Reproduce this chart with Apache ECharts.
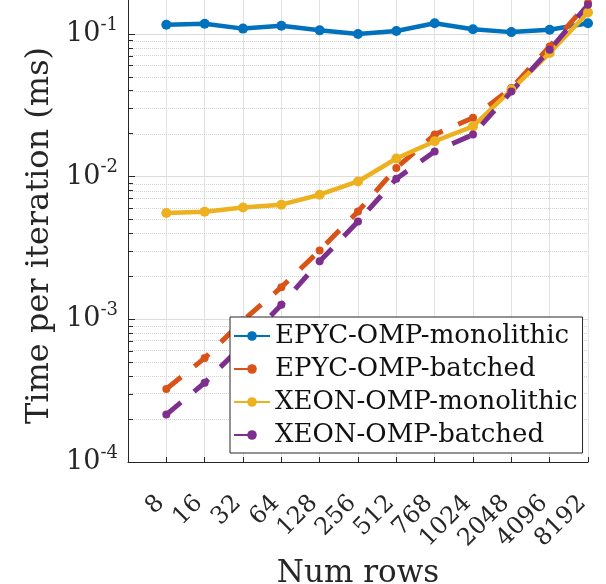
<!DOCTYPE html>
<html>
<head>
<meta charset="utf-8">
<script src="https://cdn.jsdelivr.net/npm/echarts@6/dist/echarts.min.js"></script>
<style>
  html, body { margin: 0; padding: 0; background: #fff; }
  #main { width: 606px; height: 584px; }
</style>
</head>
<body>
<div id="main"></div>
<script>
// data (time per iteration, ms)
var rows = ["8", "16", "32", "64", "128", "256", "512", "768", "1024", "2048", "4096", "8192"];
var epycMono = [0.116, 0.118, 0.109, 0.114, 0.106, 0.100, 0.105, 0.119, 0.108, 0.103, 0.107, 0.119];
var epycBatched = [0.000325, 0.000535, 0.00098, 0.00168, 0.00304, 0.0057, 0.0115, 0.0197, 0.0259, 0.0418, 0.0817, 0.165];
var xeonMono = [0.00556, 0.00568, 0.00608, 0.00636, 0.00747, 0.00925, 0.0134, 0.0177, 0.0225, 0.0406, 0.0735, 0.1415];
var xeonBatched = [0.000215, 0.000359, 0.000664, 0.001265, 0.00255, 0.00485, 0.00967, 0.0150, 0.0197, 0.0395, 0.0774, 0.160];
var names = ["EPYC-OMP-monolithic", "EPYC-OMP-batched", "XEON-OMP-monolithic", "XEON-OMP-batched"];
var colors = ["#0072BD", "#D95319", "#EDB120", "#7E2F8E"];

var FONT = "DejaVu Serif";
var INK = "#262626";
var YMIN = 0.0001, YMAX = 0.2;

function pairs(arr) {
  return arr.map(function (v, i) { return [i + 1, v]; });
}

// minor log ticks 2..9 per decade, as exponents for the helper axis
var minors = [];
for (var e = -4; e <= -1; e++) {
  for (var k = 2; k <= 9; k++) {
    var v = k * Math.pow(10, e);
    if (v < YMAX) minors.push(Math.log10(v));
  }
}

var myChart = echarts.init(document.getElementById("main"));
var option = {
  backgroundColor: "#fff",
  animation: false,
  grid: { left: 128, right: 18, top: -9, bottom: 122, outerBoundsMode: "none", containLabel: false },
  xAxis: {
    type: "value",
    min: 0,
    max: 12,
    interval: 1,
    name: "Num rows",
    nameLocation: "middle",
    nameGap: 88,
    nameTextStyle: { fontFamily: FONT, fontSize: 31, color: INK },
    axisLine: { lineStyle: { color: INK, width: 1 } },
    axisTick: { inside: true, length: 5, lineStyle: { color: INK } },
    axisLabel: {
      rotate: 45,
      margin: 32,
      padding: [0, 8, 0, 0],
      fontFamily: FONT,
      fontSize: 24,
      color: INK,
      showMinLabel: true,
      showMaxLabel: true,
      formatter: function (v) {
        return v >= 1 && v <= 12 ? rows[v - 1] : "";
      }
    },
    splitLine: { show: true, lineStyle: { color: "#e2e2e2", width: 1 } }
  },
  yAxis: [
    {
      type: "log",
      logBase: 10,
      min: YMIN,
      max: YMAX,
      interval: 1,
      name: "Time per iteration (ms)",
      nameLocation: "middle",
      nameGap: 72,
      nameTextStyle: { fontFamily: FONT, fontSize: 32, color: INK, padding: [0, 18, 0, 0] },
      axisLine: { show: true, lineStyle: { color: INK, width: 1 } },
      axisTick: { inside: true, length: 7, lineStyle: { color: INK } },
      axisLabel: {
        margin: 10,
        formatter: function (v) {
          var lg = Math.log10(v);
          var e = Math.round(lg);
          if (Math.abs(lg - e) > 1e-6) return "";
          return "{b|10}{s|" + e + "}";
        },
        rich: {
          b: { fontFamily: FONT, fontSize: 27, color: INK, lineHeight: 36, verticalAlign: "middle" },
          s: { fontFamily: FONT, fontSize: 18, color: INK, lineHeight: 18, verticalAlign: "top" }
        }
      },
      splitLine: { show: true, lineStyle: { color: "#dcdcdc", width: 1 } }
    },
    {
      // helper axis in exponent units, used only to place the minor grid
      type: "value",
      show: false,
      min: Math.log10(YMIN),
      max: Math.log10(YMAX),
      splitLine: { show: false }
    }
  ],
  legend: {
    orient: "vertical",
    left: 230,
    top: 317,
    z: 10,
    data: names,
    backgroundColor: "#fff",
    borderColor: INK,
    borderWidth: 1,
    borderRadius: 0,
    padding: [6, 5, 5, 3],
    itemGap: 7,
    itemWidth: 36,
    itemHeight: 12,
    textStyle: { fontFamily: FONT, fontSize: 26, color: "#111" }
  },
  series: [
    {
      name: "minor-grid",
      type: "line",
      yAxisIndex: 1,
      z: 0,
      data: [],
      silent: true,
      markLine: {
        z: 0,
        silent: true,
        symbol: "none",
        label: { show: false },
        animation: false,
        lineStyle: { type: "dotted", color: "#d2d2d2", width: 1 },
        data: minors.map(function (m) { return { yAxis: m }; })
      }
    },
    {
      name: "minor-ticks",
      type: "line",
      yAxisIndex: 1,
      z: 0,
      data: [],
      silent: true,
      markLine: {
        z: 1,
        silent: true,
        symbol: "none",
        label: { show: false },
        animation: false,
        lineStyle: { type: "solid", color: INK, width: 1 },
        data: minors.map(function (m) { return [{ coord: [0, m] }, { coord: [0.13, m] }]; })
      }
    },
    {
      name: names[0],
      type: "line",
      z: 3,
      data: pairs(epycMono),
      color: colors[0],
      symbol: "circle",
      symbolSize: 10,
      lineStyle: { width: 4.5 }
    },
    {
      name: names[1],
      type: "line",
      z: 3,
      data: pairs(epycBatched),
      color: colors[1],
      symbol: "circle",
      symbolSize: 8,
      lineStyle: { width: 5, type: [19, 17] }
    },
    {
      name: names[2],
      type: "line",
      z: 3,
      data: pairs(xeonMono),
      color: colors[2],
      symbol: "circle",
      symbolSize: 10,
      lineStyle: { width: 4.5 }
    },
    {
      name: names[3],
      type: "line",
      z: 3,
      data: pairs(xeonBatched),
      color: colors[3],
      symbol: "circle",
      symbolSize: 8,
      lineStyle: { width: 5, type: [19, 17] }
    }
  ]
};
myChart.setOption(option);
</script>
</body>
</html>
